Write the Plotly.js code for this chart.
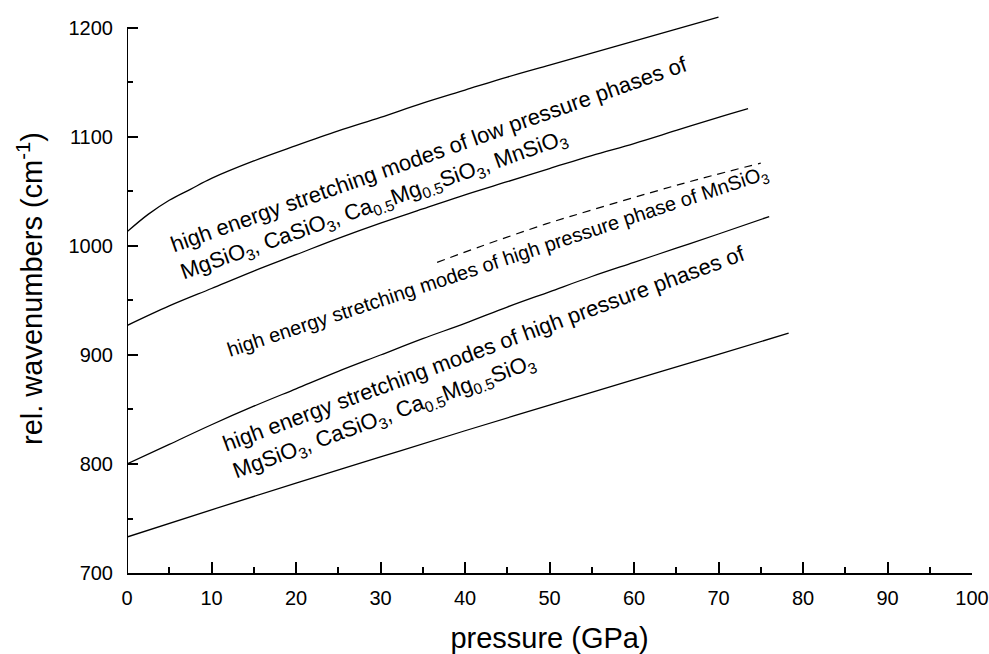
<!DOCTYPE html>
<html>
<head>
<meta charset="utf-8">
<script src="https://cdn.plot.ly/plotly-3.0.1.min.js"></script>
<style>html,body{margin:0;padding:0;background:#fff;}#chart{width:989px;height:654px;}</style>
</head>
<body>
<div id="chart"></div>
<script>
// Upper boundary of low-pressure band
const lowUpperX = [0, 2.5, 5, 7.5, 10, 15, 20, 25, 30, 35, 40, 45, 50, 55, 60, 65, 70];
const lowUpperY = [1013, 1029, 1042, 1052, 1062, 1078, 1092, 1105.5, 1118, 1131, 1143, 1155, 1166, 1177, 1188, 1199, 1210];
// Lower boundary of low-pressure band
const lowLowerX = [0, 5, 10, 15, 20, 25, 30, 35, 40, 45, 50, 55, 60, 65, 70, 73.5];
const lowLowerY = [927, 945, 961, 977, 992, 1007, 1021, 1034, 1047, 1059, 1071, 1083, 1094, 1106, 1118, 1126];
// MnSiO3 high pressure phase (dashed)
const mnX = [36.7, 42, 49.5, 55, 62, 68, 75];
const mnY = [985, 1000, 1020, 1033, 1049, 1062, 1076];
// Upper boundary of high-pressure band
const highUpperX = [0, 5, 10, 15, 20, 25, 30, 35, 40, 45, 50, 55, 60, 65, 70, 76];
const highUpperY = [800, 818, 836, 853, 869, 885, 900, 915, 929, 944, 958, 972, 985, 998, 1011, 1027];
// Lower boundary of high-pressure band
const highLowerX = [0, 10, 20, 30, 40, 50, 60, 70, 78.3];
const highLowerY = [733, 758, 782.5, 806.5, 830.5, 854, 877.5, 900.5, 920];

const labelTexts = [
  "high energy stretching modes of low pressure phases of<br>MgSiO<sub>3</sub>, CaSiO<sub>3</sub>, Ca<sub>0.5</sub>Mg<sub>0.5</sub>SiO<sub>3</sub>, MnSiO<sub>3</sub>",
  "high energy stretching modes of high pressure phase of MnSiO<sub>3</sub>",
  "high energy stretching modes of high pressure phases of<br>MgSiO<sub>3</sub>, CaSiO<sub>3</sub>, Ca<sub>0.5</sub>Mg<sub>0.5</sub>SiO<sub>3</sub>"
];
const labelX = [36.3, 43.9, 42.9];
const labelY = [1071, 984.7, 892.3];

const FONT = "Liberation Sans, Arial, Helvetica, sans-serif";
const solid = {color: "#000", width: 1.3, shape: "spline", smoothing: 1};

const traces = [
  {x: lowUpperX, y: lowUpperY, mode: "lines", line: solid, hoverinfo: "skip"},
  {x: lowLowerX, y: lowLowerY, mode: "lines", line: solid, hoverinfo: "skip"},
  {x: mnX, y: mnY, mode: "lines", line: Object.assign({}, solid, {dash: "8px,6px", width: 1.2}), hoverinfo: "skip"},
  {x: highUpperX, y: highUpperY, mode: "lines", line: solid, hoverinfo: "skip"},
  {x: highLowerX, y: highLowerY, mode: "lines", line: solid, hoverinfo: "skip"}
];

const annotations = [
  {x: labelX[0], y: labelY[0], text: labelTexts[0], textangle: -19.5, align: "left", font: {size: 22}},
  {x: labelX[1], y: labelY[1], text: labelTexts[1], textangle: -18.3, align: "left", font: {size: 20}},
  {x: labelX[2], y: labelY[2], text: labelTexts[2], textangle: -20.3, align: "left", font: {size: 22}}
].map(a => Object.assign({xref: "x", yref: "y", showarrow: false, xanchor: "center", yanchor: "middle"}, a, {font: Object.assign({family: FONT, color: "#000"}, a.font)}));

const layout = {
  width: 989, height: 654,
  margin: {l: 127, r: 17, t: 4, b: 81},
  paper_bgcolor: "#fff", plot_bgcolor: "#fff",
  showlegend: false,
  font: {family: FONT, color: "#000", size: 20},
  xaxis: {
    range: [0, 100], dtick: 10, tick0: 0,
    showgrid: false, zeroline: false,
    showline: true, linecolor: "#000", linewidth: 2,
    ticks: "inside", ticklen: 11, tickwidth: 2, tickcolor: "#000",
    minor: {ticks: "inside", ticklen: 6, tickwidth: 2, tickcolor: "#000", dtick: 5, showgrid: false},
    tickfont: {size: 20, family: FONT},
    ticklabelstandoff: 6,
    title: {text: "pressure (GPa)", font: {size: 29, family: FONT}, standoff: 22},
    fixedrange: true
  },
  yaxis: {
    range: [700, 1222], dtick: 100, tick0: 700,
    showgrid: false, zeroline: false,
    showline: false,
    ticks: "inside", ticklen: 11, tickwidth: 2, tickcolor: "#000",
    minor: {ticks: "inside", ticklen: 6, tickwidth: 2, tickcolor: "#000", dtick: 50, showgrid: false},
    tickfont: {size: 20, family: FONT},
    ticklabelstandoff: 13,
    title: {text: "rel. wavenumbers (cm<sup>-1</sup>)", font: {size: 29, family: FONT}, standoff: 17},
    fixedrange: true
  },
  shapes: [
    {type: "line", xref: "x", yref: "y", x0: 0, x1: 0, y0: 700, y1: 1200, line: {color: "#000", width: 2}}
  ],
  annotations: annotations
};

Plotly.newPlot("chart", traces, layout, {staticPlot: true, displayModeBar: false});
</script>
</body>
</html>
